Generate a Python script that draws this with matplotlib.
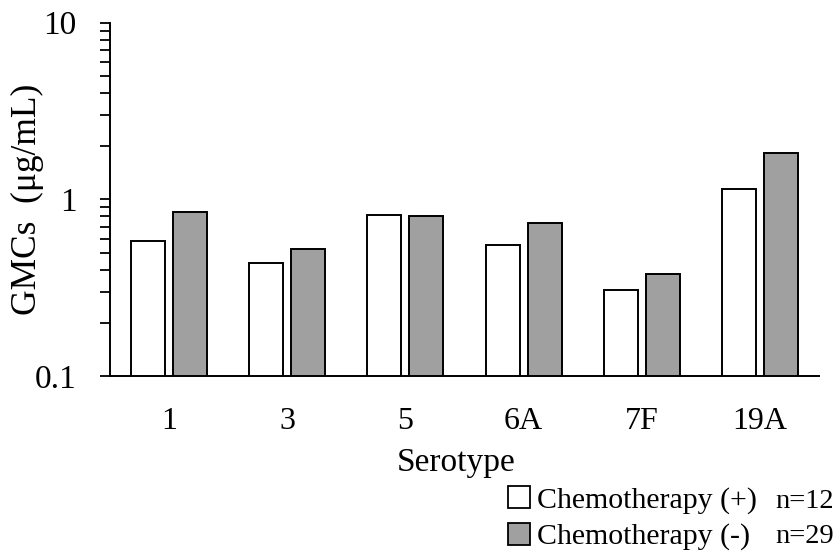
import matplotlib
matplotlib.use("Agg")
import matplotlib.pyplot as plt
import numpy as np
from matplotlib.patches import Patch
from matplotlib.ticker import LogLocator, NullFormatter, FixedLocator, FixedFormatter

plt.rcParams['font.family'] = ['Liberation Serif', 'DejaVu Serif']

serotypes = ["1", "3", "5", "6A", "7F", "19A"]
chemo_pos = [0.579, 0.435, 0.815, 0.552, 0.306, 1.14]
chemo_neg = [0.845, 0.526, 0.808, 0.731, 0.377, 1.84]
labels = ["Chemotherapy (+)", "Chemotherapy (-)"]
n_labels = ["n=12", "n=29"]

fig = plt.figure(figsize=(8.4, 5.52), dpi=100)
ax = fig.add_axes([110/840, 1-376/552, (819-110)/840, (376-22.7)/552])

x = np.arange(len(serotypes))
w = 0.287
off = 0.1775
ax.bar(x - off, chemo_pos, width=w, color="white", edgecolor="black", linewidth=1.4, bottom=0)
ax.bar(x + off, chemo_neg, width=w, color="#a0a0a0", edgecolor="black", linewidth=1.4, bottom=0)

ax.set_yscale("log")
ax.set_ylim(0.1, 10)
ax.set_xlim(-0.5, 5.5)
ax.yaxis.set_major_locator(FixedLocator([0.1, 1, 10]))
ax.yaxis.set_major_formatter(FixedFormatter(["0.1", "1", "10"]))
ax.yaxis.set_minor_locator(LogLocator(base=10, subs=np.arange(2, 10)))
ax.yaxis.set_minor_formatter(NullFormatter())
ax.tick_params(axis="y", which="both", length=7, width=1.3, direction="out", labelsize=24, pad=17)
ax.set_xticks(x)
ax.set_xticklabels(serotypes)
ax.tick_params(axis="x", length=0, labelsize=23, pad=22)

for s in ["top", "right"]:
    ax.spines[s].set_visible(False)
for s in ["left", "bottom"]:
    ax.spines[s].set_linewidth(1.4)

ax.set_xlabel("Serotype", fontsize=24)
ax.xaxis.set_label_coords(0.488, -0.203)
ax.set_ylabel("GMCs  (\u03bcg/mL)", fontsize=25.5)
ax.yaxis.set_label_coords(-0.093, 0.5)

handles = [Patch(facecolor="white", edgecolor="black", linewidth=1.3),
           Patch(facecolor="#a0a0a0", edgecolor="black", linewidth=1.3)]
leg = fig.legend(handles, labels, loc="upper left", bbox_to_anchor=(508/840, 1-486/552),
                 frameon=False, fontsize=21.5, handlelength=0.75, handleheight=0.75,
                 handletextpad=0.23, labelspacing=0.3, borderaxespad=0, borderpad=0)
fig.text(775/840, 1-508/552, n_labels[0], fontsize=20.5, va="baseline", ha="left")
fig.text(775/840, 1-543/552, n_labels[1], fontsize=20.5, va="baseline", ha="left")

fig.savefig("out.png", dpi=100)
